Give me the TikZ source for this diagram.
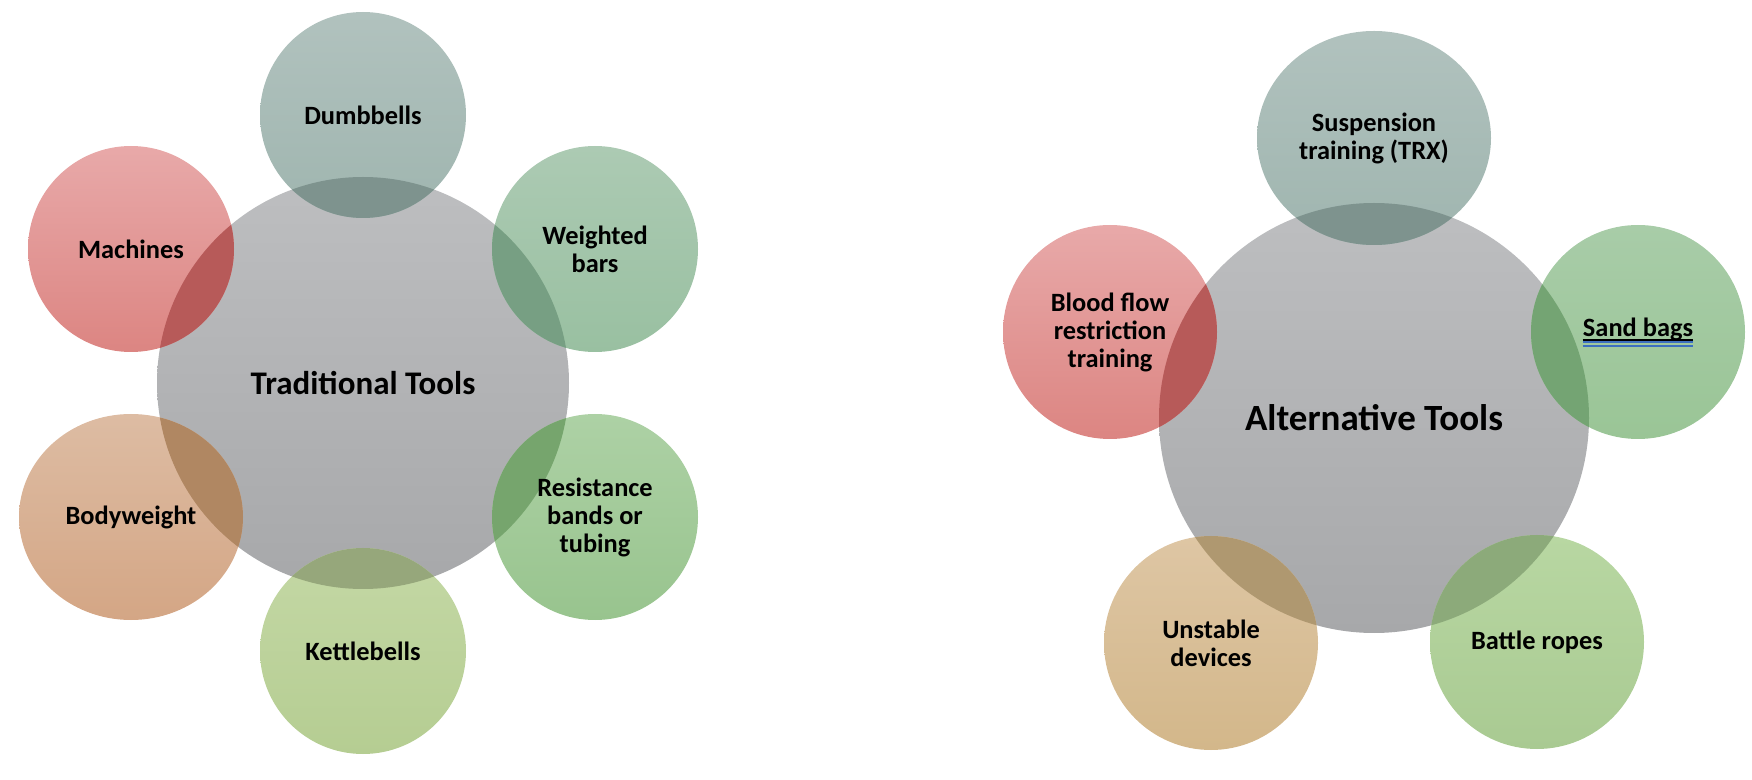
\documentclass[tikz,border=0pt]{standalone}
\usepackage{fontspec}
\setmainfont{Carlito}
\definecolor{grayT}{HTML}{BDBEC0}
\definecolor{grayB}{HTML}{A7A8AA}
\definecolor{tealT}{HTML}{B1C2BE}
\definecolor{tealB}{HTML}{9FB5AF}
\definecolor{tealO}{HTML}{7E938E}
\definecolor{redT}{HTML}{E8A9A9}
\definecolor{redB}{HTML}{DC8582}
\definecolor{redO}{HTML}{B75A59}
\definecolor{sgT}{HTML}{ACCAB3}
\definecolor{sgB}{HTML}{99C0A1}
\definecolor{sgO}{HTML}{779F83}
\definecolor{grT}{HTML}{ADD1A5}
\definecolor{grB}{HTML}{98C48E}
\definecolor{grO}{HTML}{76A56D}
\definecolor{sbT}{HTML}{A8CCA8}
\definecolor{sbB}{HTML}{9AC596}
\definecolor{sbO}{HTML}{74A473}
\definecolor{ygT}{HTML}{C4D8A5}
\definecolor{ygB}{HTML}{B5CD92}
\definecolor{ygO}{HTML}{96A77B}
\definecolor{brT}{HTML}{B8D7A2}
\definecolor{brB}{HTML}{A9CA92}
\definecolor{brO}{HTML}{8CAA7A}
\definecolor{orT}{HTML}{DDBCA3}
\definecolor{orB}{HTML}{D4A685}
\definecolor{orO}{HTML}{B08762}
\definecolor{tnT}{HTML}{DEC6A4}
\definecolor{tnB}{HTML}{D3B78A}
\definecolor{tnO}{HTML}{AF9870}
\definecolor{ulblue}{HTML}{3C6FC0}
\begin{document}
\begin{tikzpicture}[x=0.5pt,y=-0.5pt,
  lbl/.style={font=\bfseries\fontsize{13.2}{14}\selectfont, align=center, text=black, inner sep=0pt},
  biglbl/.style={font=\bfseries\fontsize{16.5}{18}\selectfont, align=center, text=black, inner sep=0pt},
  biglblb/.style={font=\bfseries\fontsize{18.5}{20}\selectfont, align=center, text=black, inner sep=0pt}]
\useasboundingbox (0,0) rectangle (1752,780);
% ---------- left: Traditional Tools ----------
\shade[top color=grayT, bottom color=grayB] (363,383) circle [radius=206];
\shade[top color=tealT, bottom color=tealB] (363,115) circle [radius=103];
\shade[top color=redT, bottom color=redB] (131,249) circle [radius=103];
\shade[top color=sgT, bottom color=sgB] (595,249) circle [radius=103];
\shade[top color=grT, bottom color=grB] (595,517) circle [radius=103];
\shade[top color=ygT, bottom color=ygB] (363,651) circle [radius=103];
\shade[top color=orT, bottom color=orB] (131,517) ellipse [x radius=112, y radius=103];
\begin{scope}
  \clip (363,383) circle [radius=206];
  \fill[tealO] (363,115) circle [radius=103];
  \fill[redO] (131,249) circle [radius=103];
  \fill[sgO] (595,249) circle [radius=103];
  \fill[grO] (595,517) circle [radius=103];
  \fill[ygO] (363,651) circle [radius=103];
  \fill[orO] (131,517) ellipse [x radius=112, y radius=103];
\end{scope}
\node[biglbl] (trad) at (363,383) {Traditional Tools};
\node[lbl] (dumb) at (363,115) {Dumbbells};
\node[lbl] (mach) at (131,249) {Machines};
\node[lbl] (wbar) at (595,249) {Weighted\\bars};
\node[lbl] (resi) at (595,517) {Resistance\\bands or\\tubing};
\node[lbl] (kett) at (363,651) {Kettlebells};
\node[lbl] (body) at (131,517) {Bodyweight};
% ---------- right: Alternative Tools ----------
\shade[top color=grayT, bottom color=grayB] (1374,418) circle [radius=215];
\shade[top color=tealT, bottom color=tealB] (1374,138) ellipse [x radius=117, y radius=107];
\shade[top color=redT, bottom color=redB] (1110,332) circle [radius=107];
\shade[top color=sbT, bottom color=sbB] (1638,332) circle [radius=107];
\shade[top color=tnT, bottom color=tnB] (1211,643) circle [radius=107];
\shade[top color=brT, bottom color=brB] (1537,642) circle [radius=107];
\begin{scope}
  \clip (1374,418) circle [radius=215];
  \fill[tealO] (1374,138) ellipse [x radius=117, y radius=107];
  \fill[redO] (1110,332) circle [radius=107];
  \fill[sbO] (1638,332) circle [radius=107];
  \fill[tnO] (1211,643) circle [radius=107];
  \fill[brO] (1537,642) circle [radius=107];
\end{scope}
\node[biglblb] (alt) at (1374,418) {Alternative Tools};
\node[lbl] (susp) at (1374,138) {Suspension\\training (TRX)};
\node[lbl] (blood) at (1110,332) {Blood flow\\restriction\\training};
\node[lbl, anchor=base] (sand) at (1638,337) {Sand bags};
\node[lbl] (unst) at (1211,643) {Unstable\\devices};
\node[lbl] (batt) at (1537,642) {Battle ropes};
\coordinate (ulL) at (sand.base west);
\coordinate (ulR) at (sand.base east);
\draw[line width=0.6pt] ([yshift=-1.5pt]ulL) -- ([yshift=-1.5pt]ulR);
\draw[ulblue, line width=0.8pt] ([yshift=-2.6pt]ulL) -- ([yshift=-2.6pt]ulR);
\draw[ulblue, line width=0.8pt] ([yshift=-4.6pt]ulL) -- ([yshift=-4.6pt]ulR);
\end{tikzpicture}
\end{document}
